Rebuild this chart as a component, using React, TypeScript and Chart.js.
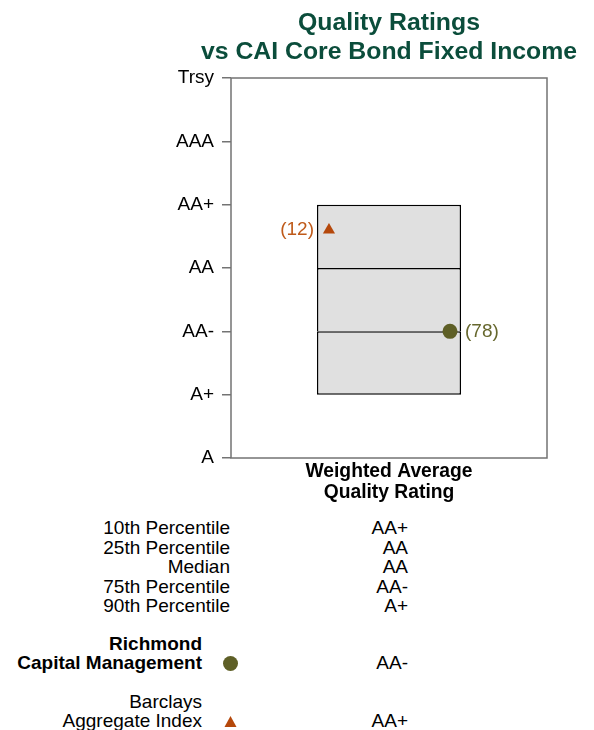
import React, { useEffect, useRef } from 'react';
import { Chart, registerables } from 'chart.js';

Chart.register(...registerables);

const ratingLabels = ['A', 'A+', 'AA-', 'AA', 'AA+', 'AAA', 'Trsy'];
const categoryLabel = ['Weighted Average', 'Quality Rating'];
const titleLines = ['Quality Ratings', 'vs CAI Core Bond Fixed Income'];
const percentileNames = ['10th Percentile', '25th Percentile', 'Median', '75th Percentile', '90th Percentile'];
const percentileValues = [4, 3, 3, 2, 1];
const managerName = ['Richmond', 'Capital Management'];
const managerValue = 2.0;
const managerRank = 78;
const indexName = ['Barclays', 'Aggregate Index'];
const indexValue = 3.6;
const indexRank = 12;

const FONT = '"Liberation Sans", Arial, Helvetica, sans-serif';
const TITLE_COLOR = '#0b4d3b';
const MANAGER_COLOR = '#5e5f26';
const INDEX_COLOR = '#b5480b';
const MANAGER_TEXT = '#66672d';
const INDEX_TEXT = '#bf5a1a';
const FRAME_COLOR = '#737373';
const MANAGER_X = 0.693;
const INDEX_X = 0.31;

const ratingOf = (v: number) => ratingLabels[Math.round(v)];

const framePlugin = {
  id: 'frame',
  beforeDatasetsDraw(chart: any) {
    const { ctx, chartArea } = chart;
    ctx.save();
    ctx.strokeStyle = FRAME_COLOR;
    ctx.lineWidth = 1.5;
    ctx.strokeRect(chartArea.left, chartArea.top, chartArea.right - chartArea.left, chartArea.bottom - chartArea.top);
    ctx.restore();
  },
};

const rankLabelPlugin = {
  id: 'rankLabels',
  afterDatasetsDraw(chart: any) {
    const ctx = chart.ctx;
    chart.data.datasets.forEach((ds: any, i: number) => {
      if (!ds.rankLabel) return;
      const meta = chart.getDatasetMeta(i);
      const pt = meta.data[0];
      if (!pt) return;
      ctx.save();
      ctx.font = `19px ${FONT}`;
      ctx.fillStyle = ds.labelColor;
      ctx.textBaseline = 'middle';
      if (ds.labelSide === 'left') {
        ctx.textAlign = 'right';
        ctx.fillText(ds.rankLabel, pt.x - 15, pt.y);
      } else {
        ctx.textAlign = 'left';
        ctx.fillText(ds.rankLabel, pt.x + 15, pt.y);
      }
      ctx.restore();
    });
  },
};

function ChartCanvas() {
  const ref = useRef<HTMLCanvasElement | null>(null);
  useEffect(() => {
    if (!ref.current) return;
    const sorted = [...percentileValues].sort((a, b) => a - b);
    const segments: number[][] = [];
    for (let i = 0; i < sorted.length - 1; i++) {
      if (sorted[i + 1] !== sorted[i]) segments.push([sorted[i], sorted[i + 1]]);
    }
    const barSets = segments.map((s, i) => ({
      type: 'bar',
      order: 2,
      data: [[s[0], s[1]]],
      backgroundColor: '#e0e0e0',
      borderColor: '#000000',
      borderWidth: { left: 1.5, right: 1.5, top: 1.5, bottom: i === 0 ? 1.5 : 0 },
      borderSkipped: false,
      grouped: false,
      barPercentage: 1,
      categoryPercentage: 0.456,
      xAxisID: 'x',
      yAxisID: 'y',
    }));
    const chart = new Chart(ref.current, {
      type: 'bar',
      data: {
        labels: [categoryLabel],
        datasets: [
          ...barSets,
          {
            type: 'scatter',
            order: 0,
            data: [{ x: INDEX_X, y: indexValue }],
            xAxisID: 'x2',
            yAxisID: 'y',
            pointStyle: 'triangle',
            pointRadius: 7,
            backgroundColor: INDEX_COLOR,
            borderColor: INDEX_COLOR,
            borderWidth: 0,
            rankLabel: `(${indexRank})`,
            labelColor: INDEX_TEXT,
            labelSide: 'left',
          },
          {
            type: 'scatter',
            order: 0,
            data: [{ x: MANAGER_X, y: managerValue }],
            xAxisID: 'x2',
            yAxisID: 'y',
            pointStyle: 'circle',
            pointRadius: 7.5,
            backgroundColor: MANAGER_COLOR,
            borderColor: MANAGER_COLOR,
            borderWidth: 0,
            rankLabel: `(${managerRank})`,
            labelColor: MANAGER_TEXT,
            labelSide: 'right',
          },
        ] as any,
      },
      options: {
        responsive: false,
        animation: false,
        devicePixelRatio: 1,
        layout: { padding: { top: 78, right: 47, left: 0, bottom: 0 } },
        plugins: {
          legend: { display: false },
          title: { display: false },
          tooltip: { enabled: false },
        },
        scales: {
          x: {
            type: 'category',
            position: 'bottom',
            grid: { display: false, drawTicks: false, tickLength: 0 },
            border: { display: false },
            ticks: {
              color: '#000000',
              font: { family: FONT, size: 19.3, weight: 'bold', lineHeight: 1.1 },
              padding: 3,
              maxRotation: 0,
            },
            afterFit: (scale: any) => {
              scale.height = 52;
            },
          },
          x2: {
            type: 'linear',
            position: 'bottom',
            min: 0,
            max: 1,
            offset: false,
            display: false,
          },
          y: {
            type: 'linear',
            min: 0,
            max: ratingLabels.length - 1,
            border: { display: false },
            grid: {
              drawOnChartArea: false,
              drawTicks: true,
              tickLength: 9,
              color: FRAME_COLOR,
              lineWidth: 1.5,
            },
            ticks: {
              stepSize: 1,
              color: '#000000',
              font: { family: FONT, size: 19 },
              padding: 8,
              callback: (v: any) => ratingLabels[Math.round(Number(v))] ?? '',
            },
            afterFit: (scale: any) => {
              scale.width = 231;
            },
          },
        },
      } as any,
      plugins: [framePlugin, rankLabelPlugin],
    });
    return () => chart.destroy();
  }, []);
  return <canvas ref={ref} width={594} height={510} style={{ display: 'block', width: 594, height: 510 }} />;
}

const abs = (extra: any): any => ({ position: 'absolute', whiteSpace: 'nowrap', ...extra });

export default function App() {
  const rowH = 22;
  const fs = 19;
  const pctCenters = [528, 547.5, 567, 586.5, 606];
  const labelRight = 230;
  const nameRight = 202;
  const valueRight = 408;
  const markerX = 230;
  const mgrCenters = [644, 663];
  const idxCenters = [702, 721];
  const textStyle = (right: number, cy: number, bold = false) =>
    abs({ right: 594 - right, top: cy - rowH / 2, height: rowH, lineHeight: rowH + 'px', fontSize: fs, fontWeight: bold ? 'bold' : 'normal', color: '#000', textAlign: 'right' });
  return (
    <div style={{ position: 'absolute', left: 0, top: 0, width: 594, height: 730, background: '#ffffff', fontFamily: FONT, overflow: 'hidden' }}>
      <ChartCanvas />
      <div
        style={abs({
          left: 139,
          width: 500,
          top: 6.5,
          textAlign: 'center',
          color: TITLE_COLOR,
          fontWeight: 'bold',
          fontSize: 24.8,
          lineHeight: '29px',
        })}
      >
        {titleLines.map((t) => (
          <div key={t}>{t}</div>
        ))}
      </div>
      {percentileNames.map((name, i) => (
        <React.Fragment key={name}>
          <div style={textStyle(labelRight, pctCenters[i])}>{name}</div>
          <div style={textStyle(valueRight, pctCenters[i])}>{ratingOf(percentileValues[i])}</div>
        </React.Fragment>
      ))}
      {managerName.map((t, i) => (
        <div key={t} style={textStyle(nameRight, mgrCenters[i], true)}>{t}</div>
      ))}
      <div style={abs({ left: markerX - 7.5, top: mgrCenters[1] - 7.5, width: 15, height: 15, borderRadius: '50%', background: MANAGER_COLOR })} />
      <div style={textStyle(valueRight, mgrCenters[1])}>{ratingOf(managerValue)}</div>
      {indexName.map((t, i) => (
        <div key={t} style={textStyle(nameRight, idxCenters[i])}>{t}</div>
      ))}
      <svg style={abs({ left: markerX - 6.5, top: idxCenters[1] - 6.5, width: 13, height: 13 })} width={13} height={13}>
        <polygon points="6.5,1 12.5,12 0.5,12" fill={INDEX_COLOR} />
      </svg>
      <div style={textStyle(valueRight, idxCenters[1])}>{ratingOf(indexValue)}</div>
    </div>
  );
}
